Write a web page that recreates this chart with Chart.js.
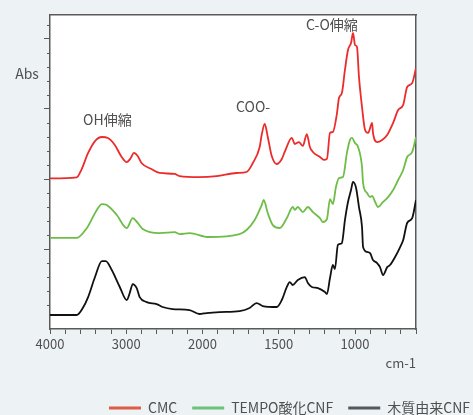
<!DOCTYPE html>
<html>
<head>
<meta charset="utf-8">
<script src="https://cdn.jsdelivr.net/npm/chart.js@4/dist/chart.umd.min.js"></script>
<style>
  html, body { margin: 0; padding: 0; background: #edf2f5; }
  #wrap { position: relative; width: 473px; height: 415px; }
</style>
</head>
<body>
<div id="wrap"><canvas id="c"></canvas></div>
<script>
const FONT = '"Noto Sans CJK JP", "Noto Sans", sans-serif';
const TEXT = '#505050';
const AXIS = '#5a5a5a';

// FT-IR spectra: wavenumber (cm-1) and vertically offset absorbance
const cmcWavenumbers = [4000,3650,3590,3500,3410,3320,3240,3150,3060,2995,2940,2900,2850,2800,2670,2562,2366,2301,2039,1908,
  1776,1711,1670,1625,1612,1592,1572,1546,1513,1480,1461,1414,1395,1368,1342,1316,1296,1276,1230,1204,
  1184,1164,1145,1118,1105,1086,1066,1046,1026,1013,1000,987,974,954,934,914,888,882,855,822,
  789,750,717,684,658,625,600];
const cmcAbs = [10.04,10.11,10.64,11.86,12.71,13.0,12.93,12.43,11.57,11.21,11.5,11.86,11.64,11.14,10.71,10.43,10.36,10.21,10.14,10.21,
  10.43,10.5,11.14,12.29,13.14,13.93,13.0,11.64,11.07,11.43,11.93,12.93,12.5,12.64,12.36,13.21,12.29,11.93,11.57,11.36,
  11.43,13.29,13.36,14.71,15.79,16.14,17.79,19.21,19.71,20.43,19.57,19.43,17.29,15.14,13.5,13.29,14.0,13.29,12.64,12.79,
  13.14,14.0,14.93,15.29,16.57,16.86,17.93];

const tempoWavenumbers = [4000,3650,3516,3386,3320,3255,3124,2994,2915,2850,2784,2562,2366,2301,2170,1960,1757,1711,1658,1612,
  1599,1572,1539,1493,1447,1408,1395,1375,1342,1309,1276,1230,1211,1184,1164,1145,1125,1105,1079,1053,
  1033,1020,1000,980,954,947,921,901,888,868,849,816,783,750,717,684,658,625,600];
const tempoAbs = [5.79,5.79,6.5,7.79,8.21,8.14,7.43,6.5,7.21,6.86,6.43,6.14,6.21,6.07,6.14,5.86,6.07,6.36,7.07,8.14,
  8.5,7.57,6.71,6.5,7.21,8.0,7.79,8.0,7.64,8.0,7.64,7.21,6.93,7.14,8.57,8.21,9.43,10.07,10.14,11.86,
  12.79,12.93,12.57,12.29,10.86,9.71,9.0,8.71,8.79,8.36,8.0,8.36,8.71,9.21,9.93,10.64,11.57,11.93,13.0];

const woodWavenumbers = [4000,3650,3570,3500,3410,3320,3268,3190,3085,2994,2954,2915,2863,2824,2732,2602,2523,2392,2170,2039,
  1974,1888,1757,1691,1645,1605,1513,1480,1447,1428,1408,1375,1329,1309,1283,1243,1197,1184,1164,1145,
  1132,1112,1086,1066,1046,1026,1013,993,974,954,947,921,901,882,855,836,816,789,770,737,
  704,684,658,625,600];
const woodAbs = [0.29,0.29,0.79,1.57,3.0,4.14,4.14,3.5,2.29,1.36,1.86,2.5,2.21,1.57,1.21,1.07,0.86,0.71,0.64,0.36,
  0.43,0.5,0.57,0.79,1.14,0.93,0.86,1.36,2.29,2.64,2.43,2.79,3.0,2.57,2.29,2.21,1.93,1.79,2.93,3.86,
  3.57,5.29,5.43,7.07,8.36,9.21,9.79,9.36,8.0,6.57,5.14,4.79,4.71,4.21,4.0,3.71,3.14,3.71,3.86,4.43,
  5.14,5.64,6.86,7.21,8.5];

const seriesNames = ['CMC', 'TEMPO酸化CNF', '木質由来CNF'];
const lineColors = ['#ec2b2b', '#6dbd47', '#111111'];
const legendColors = ['#de5d47', '#6cc27a', '#55595e'];

const tickWavenumbers = [4000, 3000, 2000, 1500, 1000];
const peakLabels = ['OH伸縮', 'COO-', 'C-O伸縮'];
const peakWavenumbers = [3248, 1668, 1151];
const peakLevels = [14.2, 15.15, 21.0];
const absTitleLevel = 17.5;

// The wavenumber axis is drawn at half scale above 2000 cm-1
function toPos(wn) { return wn >= 2000 ? 4000 - wn : 2000 + (2000 - wn) * 2; }
function toWn(pos) { return pos <= 2000 ? 4000 - pos : 2000 - (pos - 2000) / 2; }

function points(wns, vals) { return wns.map((w, i) => ({ x: toPos(w), y: vals[i] })); }

const series = [
  points(cmcWavenumbers, cmcAbs),
  points(tempoWavenumbers, tempoAbs),
  points(woodWavenumbers, woodAbs)
];

const decor = {
  id: 'decor',
  beforeDraw(chart) {
    const { ctx, chartArea: a } = chart;
    ctx.save();
    ctx.fillStyle = '#ffffff';
    ctx.fillRect(a.left, a.top, a.right - a.left, a.bottom - a.top);
    ctx.restore();
  },
  afterDraw(chart) {
    const { ctx, chartArea: a, scales: { x, y } } = chart;
    ctx.save();
    // minor ticks on the absorbance axis
    ctx.strokeStyle = AXIS;
    ctx.lineWidth = 1;
    for (let v = Math.ceil(y.min); v <= y.max; v++) {
      if (v % 5 === 0) continue;
      const py = Math.round(y.getPixelForValue(v)) + 0.5;
      ctx.beginPath();
      ctx.moveTo(a.left - 3, py);
      ctx.lineTo(a.left, py);
      ctx.stroke();
    }
    ctx.fillStyle = TEXT;
    ctx.font = '14px ' + FONT;
    ctx.textAlign = 'center';
    ctx.textBaseline = 'middle';
    peakLabels.forEach((t, i) => {
      ctx.fillText(t, x.getPixelForValue(toPos(peakWavenumbers[i])), y.getPixelForValue(peakLevels[i]));
    });
    ctx.fillText('Abs', a.left - 23, y.getPixelForValue(absTitleLevel));
    ctx.restore();
  }
};

new Chart(document.getElementById('c'), {
  type: 'line',
  data: {
    datasets: series.map((d, i) => ({
      label: seriesNames[i],
      data: d,
      borderColor: lineColors[i],
      backgroundColor: lineColors[i],
      borderWidth: 1.8,
      pointRadius: 0,
      cubicInterpolationMode: 'monotone',
      fill: false
    }))
  },
  options: {
    responsive: true,
    maintainAspectRatio: false,
    animation: false,
    layout: { padding: { left: 0, right: -12, top: 0, bottom: -10 } },
    plugins: {
      tooltip: { enabled: false },
      legend: {
        position: 'bottom',
        align: 'end',
        labels: {
          font: { family: FONT, size: 14 },
          color: TEXT,
          boxWidth: 32,
          boxHeight: 3,
          padding: 15,
          generateLabels(chart) {
            return chart.data.datasets.map((ds, i) => ({
              text: ds.label,
              fillStyle: legendColors[i],
              strokeStyle: legendColors[i],
              lineWidth: 0,
              fontColor: TEXT,
              hidden: false,
              datasetIndex: i
            }));
          }
        }
      }
    },
    scales: {
      x: {
        type: 'linear',
        position: 'bottom',
        min: 0,
        max: toPos(600),
        ticks: {
          stepSize: 200,
          autoSkip: false,
          maxRotation: 0,
          padding: 2,
          color: TEXT,
          font: { family: FONT, size: 13 },
          callback(v) {
            const wn = toWn(v);
            return tickWavenumbers.includes(wn) ? String(wn) : '';
          }
        },
        grid: { drawOnChartArea: false, drawTicks: true, tickLength: 5, color: AXIS },
        border: { display: true, color: AXIS, width: 1.5 },
        title: {
          display: true,
          text: 'cm-1',
          align: 'end',
          color: TEXT,
          font: { family: FONT, size: 13 },
          padding: { top: 1.6, bottom: 15.2 }
        }
      },
      xTop: {
        type: 'linear',
        position: 'top',
        min: 0, max: 1,
        ticks: { display: false },
        grid: { drawOnChartArea: false, drawTicks: false },
        border: { display: true, color: AXIS, width: 1.5 },
        afterFit(s) { s.height = 15; }
      },
      y: {
        type: 'linear',
        position: 'left',
        min: -0.71,
        max: 21.71,
        ticks: { display: false, stepSize: 5 },
        afterBuildTicks(s) { s.ticks = s.ticks.filter(t => Number.isInteger(t.value)); },
        grid: { drawOnChartArea: false, drawTicks: true, tickLength: 6, color: AXIS },
        border: { display: true, color: AXIS, width: 1.5 },
        afterFit(s) { s.width = 50; }
      },
      yRight: {
        type: 'linear',
        position: 'right',
        min: 0, max: 1,
        ticks: { display: false },
        grid: { drawOnChartArea: false, drawTicks: false },
        border: { display: true, color: AXIS, width: 1.5 },
        afterFit(s) { s.width = 69; }
      }
    }
  },
  plugins: [decor]
});
</script>
</body>
</html>
